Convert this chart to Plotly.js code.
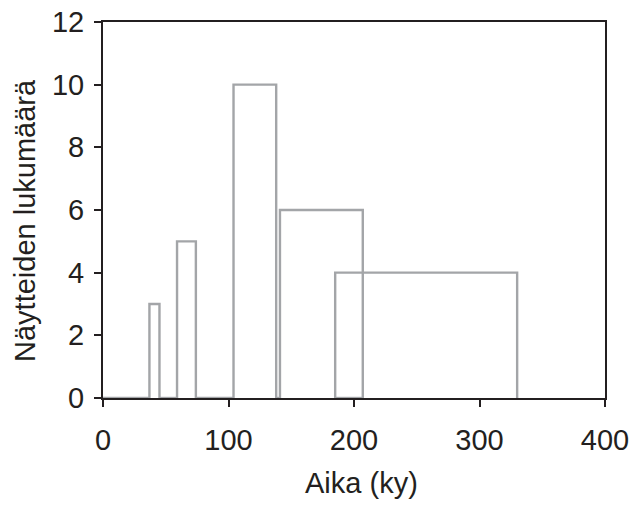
<!DOCTYPE html>
<html><head><meta charset="utf-8">
<script src="https://cdn.plot.ly/plotly-3.0.1.min.js"></script>
<style>html,body{margin:0;padding:0;background:#fff}</style>
</head><body>
<div id="chart" style="width:630px;height:508px"></div>
<script>
// Bin edges (ky) and counts
const binLeft  = [37, 59, 104, 141, 185];
const binRight = [45, 74, 138, 207, 330];
const counts   = [3, 5, 10, 6, 4];
const xTicks = [0, 100, 200, 300, 400];
const yTicks = [0, 2, 4, 6, 8, 10, 12];
const xTitle = 'Aika (ky)';
const yTitle = 'Näytteiden lukumäärä';

const gray = '#a3a5a8';
const traces = [];
// gray baseline segments between bars
const segX = [], segY = [];
let prev = 0;
for (let i = 0; i < binLeft.length; i++) {
  if (binLeft[i] > prev) { segX.push(prev, binLeft[i], null); segY.push(0, 0, null); }
  else if (binLeft[i] < prev) { segX.push(binLeft[i], prev, null); segY.push(0, 0, null); }
  prev = Math.max(prev, binRight[i]);
}
// bar outlines (open at the bottom)
for (let i = 0; i < counts.length; i++) {
  traces.push({
    x: [binLeft[i], binLeft[i], binRight[i], binRight[i]],
    y: [0, counts[i], counts[i], 0],
    mode: 'lines', line: {color: gray, width: 2.4}, hoverinfo: 'skip', showlegend: false
  });
}
traces.push({x: segX, y: segY, mode: 'lines', line: {color: gray, width: 2.4}, hoverinfo: 'skip', showlegend: false, cliponaxis: false});

const font = {family: 'Liberation Sans, Arial, sans-serif', color: '#231f20'};
const W = 630, H = 508, mL = 103, mR = 25, mT = 22, mB = 110;
const pw = W - mL - mR, ph = H - mT - mB;
const layout = {
  width: W, height: H,
  margin: {l: mL, r: mR, t: mT, b: mB},
  paper_bgcolor: '#fff', plot_bgcolor: '#fff',
  xaxis: {
    range: [0, 400], tickvals: xTicks, ticktext: xTicks.map(String),
    showgrid: false, zeroline: false, showline: true, mirror: true,
    linecolor: '#231f20', linewidth: 2, ticks: 'outside', ticklen: 7, tickwidth: 2, tickcolor: '#231f20',
    tickfont: Object.assign({size: 29}, font), ticklabelstandoff: 8, ticklabeloverflow: 'allow',
    layer: 'below traces', automargin: false
  },
  yaxis: {
    range: [0, 12], tickvals: yTicks, ticktext: yTicks.map(String),
    showgrid: false, zeroline: false, showline: true, mirror: true,
    linecolor: '#231f20', linewidth: 2, ticks: 'outside', ticklen: 7, tickwidth: 2, tickcolor: '#231f20',
    tickfont: Object.assign({size: 29}, font), ticklabelstandoff: 4, ticklabeloverflow: 'allow',
    layer: 'below traces', automargin: false
  },
  annotations: [
    {text: xTitle, xref: 'paper', yref: 'paper', x: (361 - mL) / pw, y: (H - mB - 483) / ph,
     xanchor: 'center', yanchor: 'middle', showarrow: false, font: Object.assign({size: 29}, font)},
    {text: yTitle, xref: 'paper', yref: 'paper', x: (25 - mL) / pw, y: (H - mB - 221) / ph,
     xanchor: 'center', yanchor: 'middle', textangle: -90, showarrow: false, font: Object.assign({size: 29}, font)}
  ],
  showlegend: false
};
Plotly.newPlot('chart', traces, layout, {displayModeBar: false, staticPlot: true});
</script>
</body></html>
